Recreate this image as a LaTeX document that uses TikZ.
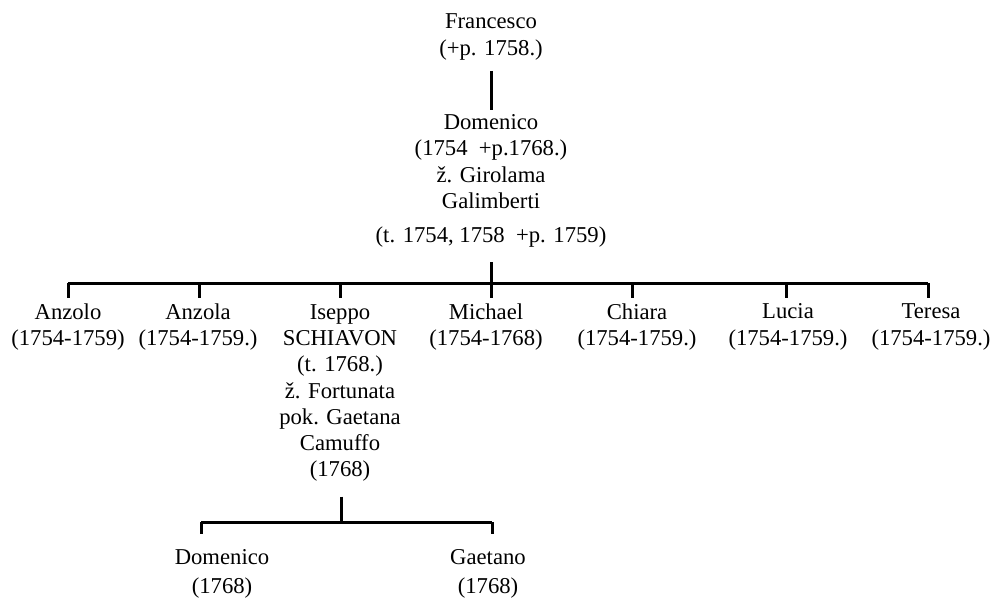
\documentclass[tikz,border=0pt]{standalone}
\usepackage{fontspec}
\setmainfont{Liberation Serif}
\usepackage{tikz}
\usetikzlibrary{positioning, calc}

\begin{document}
\begin{tikzpicture}[x=0.75pt, y=-0.75pt,
    every node/.style={align=center, inner sep=0pt, font=\fontsize{17}{19.7}\selectfont},
    line/.style={line width=2.25pt}]
    \useasboundingbox (0,0) rectangle (996,597);
    % Top generations
    \node (francesco) at (491,37) {Francesco\\(+p. 1758.)};
    \node (domenico) at (491,181) {Domenico\\(1754\ \ +p.1768.)\\
        ž. Girolama\\Galimberti\\[6pt](t. 1754, 1758\ \ +p. 1759)};
    \draw[line, shorten <=8pt, shorten >=3pt] (francesco) -- (domenico);
    % Children of Domenico
    \node (anzolo) at (68,327) {Anzolo\\(1754-1759)};
    \node (anzola) at (198,327) {Anzola\\(1754-1759.)};
    \node (iseppo) at (340,393) {Iseppo\\SCHIAVON\\(t. 1768.)\\
        ž. Fortunata\\pok. Gaetana\\Camuffo\\(1768)};
    \node (michael) at (486,327) {Michael\\(1754-1768)};
    \node (chiara) at (637,327) {Chiara\\(1754-1759.)};
    \node (lucia) at (788,327) {Lucia\\(1754-1759.)};
    \node (teresa) at (931,327) {Teresa\\(1754-1759.)};
    \coordinate (bar) at (491,283);
    \draw[line, shorten <=11pt] (domenico) -- (bar);
    \foreach \who/\tx in {anzolo/68, anzola/199, iseppo/340, michael/491, chiara/632, lucia/786, teresa/928}
        \draw[line] (\tx,283) coordinate (t-\who) -- ++(0,15);
    \draw[line] (t-anzolo) -- (t-teresa);
    % Children of Iseppo
    \node (domenico2) at (222,574) {Domenico\\[2pt](1768)};
    \node (gaetano) at (488,574) {Gaetano\\[2pt](1768)};
    \coordinate (subbar) at (341,522);
    \draw[line, shorten <=11pt] (iseppo.south -| subbar) -- (subbar);
    \foreach \who/\tx in {domenico2/201, gaetano/492}
        \draw[line] (\tx,522) coordinate (s-\who) -- ++(0,12);
    \draw[line] (s-domenico2) -- (s-gaetano);
\end{tikzpicture}
\end{document}
